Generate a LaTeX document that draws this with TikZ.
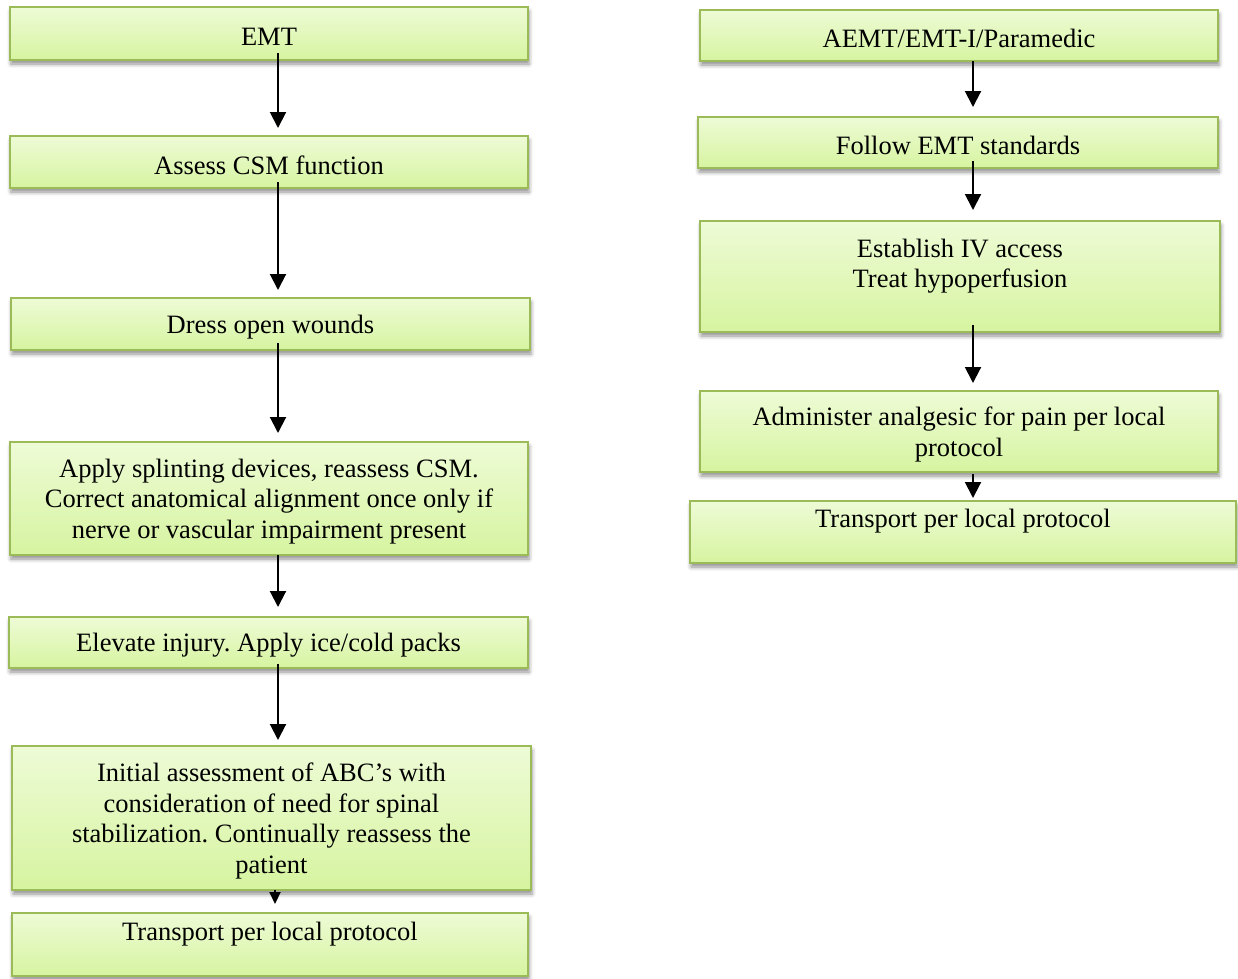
\documentclass[tikz,border=0pt]{standalone}
\usepackage{fontspec}
\setmainfont{Liberation Serif}
\usetikzlibrary{arrows.meta,shadows.blur}
\frenchspacing

\definecolor{boxedge}{RGB}{155,187,89}
\definecolor{boxtop}{RGB}{238,251,214}
\definecolor{boxbot}{RGB}{214,244,160}

\tikzset{
  stepbox/.style={draw=boxedge, line width=2pt, top color=boxtop, bottom color=boxbot,
    inner sep=0pt, outer sep=0pt,
    blur shadow={shadow xshift=1pt, shadow yshift=-4pt, shadow blur radius=4pt, shadow opacity=45}},
  txt/.style={inner sep=0pt, align=center, yshift=-3pt, font=\fontsize{26.5}{30.5}\selectfont},
  flow/.style={line width=2pt, -{Triangle[length=16pt,width=16pt]}},
}

\begin{document}
\begin{tikzpicture}[x=1pt,y=-1pt]
\useasboundingbox (0,0) rectangle (1238,978);

% left column: EMT
\node[stepbox, minimum width=518, minimum height=53] (emt) at (269,33.5) {};
\node[txt] (emt-t) at (emt.center) {EMT};
\node[stepbox, minimum width=518, minimum height=52] (csm) at (269,162) {};
\node[txt] (csm-t) at (csm.center) {Assess CSM function};
\node[stepbox, minimum width=519, minimum height=52] (dress) at (270.5,324) {};
\node[txt] (dress-t) at (dress.center) {Dress open wounds};
\node[stepbox, minimum width=518, minimum height=113] (splint) at (269,498.5) {};
\node[txt] (splint-t) at (splint.center) {Apply splinting devices, reassess CSM.\\Correct anatomical alignment once only if\\nerve or vascular impairment present};
\node[stepbox, minimum width=519, minimum height=51] (elev) at (268.5,642.5) {};
\node[txt] (elev-t) at (elev.center) {Elevate injury. Apply ice/cold packs};
\node[stepbox, minimum width=519, minimum height=144] (init) at (271.5,818) {};
\node[txt] (init-t) at (init.center) {Initial assessment of ABC’s with\\consideration of need for spinal\\stabilization. Continually reassess the\\patient};
\node[stepbox, minimum width=516, minimum height=63] (trl) at (270,944.5) {};
\node[txt] (trl-t) at ([yshift=13pt]trl.center) {Transport per local protocol};

% right column: AEMT/EMT-I/Paramedic
\node[stepbox, minimum width=518, minimum height=51] (aemt) at (959,35.5) {};
\node[txt] (aemt-t) at (aemt.center) {AEMT/EMT-I/Paramedic};
\node[stepbox, minimum width=520, minimum height=51] (std) at (958,142.5) {};
\node[txt] (std-t) at (std.center) {Follow EMT standards};
\node[stepbox, minimum width=520, minimum height=111] (iv) at (960,276.5) {};
\node[txt] (iv-t) at ([yshift=13.5pt]iv.center) {Establish IV access\\Treat hypoperfusion};
\node[stepbox, minimum width=518, minimum height=81] (pain) at (959,431.5) {};
\node[txt] (pain-t) at (pain.center) {Administer analgesic for pain per local\\protocol};
\node[stepbox, minimum width=546, minimum height=62] (trr) at (963,532) {};
\node[txt] (trr-t) at ([yshift=14pt]trr.center) {Transport per local protocol};

% connectors
\coordinate (xl) at (278,0);
\coordinate (xr) at (973,0);
\draw[flow] ([yshift=7pt]emt.south -| xl) -- ([yshift=8pt]csm.north -| xl);
\draw[flow] ([yshift=6pt]csm.south -| xl) -- ([yshift=8pt]dress.north -| xl);
\draw[flow] ([yshift=7pt]dress.south -| xl) -- ([yshift=9pt]splint.north -| xl);
\draw[flow] (splint.south -| xl) -- ([yshift=10pt]elev.north -| xl);
\draw[flow] ([yshift=4pt]elev.south -| xl) -- ([yshift=6pt]init.north -| xl);
\draw[line width=2pt, -{Triangle[length=12pt,width=11pt]}] ([xshift=-3pt]init.south -| xl) -- ([xshift=-3pt,yshift=9pt]trl.north -| xl);

\draw[flow] (aemt.south -| xr) -- ([yshift=10pt]std.north -| xr);
\draw[flow] ([yshift=7pt]std.south -| xr) -- ([yshift=11pt]iv.north -| xr);
\draw[flow] ([yshift=7pt]iv.south -| xr) -- ([yshift=8pt]pain.north -| xr);
\draw[flow] ([yshift=-2pt]pain.south -| xr) -- ([yshift=3pt]trr.north -| xr);
\end{tikzpicture}
\end{document}
